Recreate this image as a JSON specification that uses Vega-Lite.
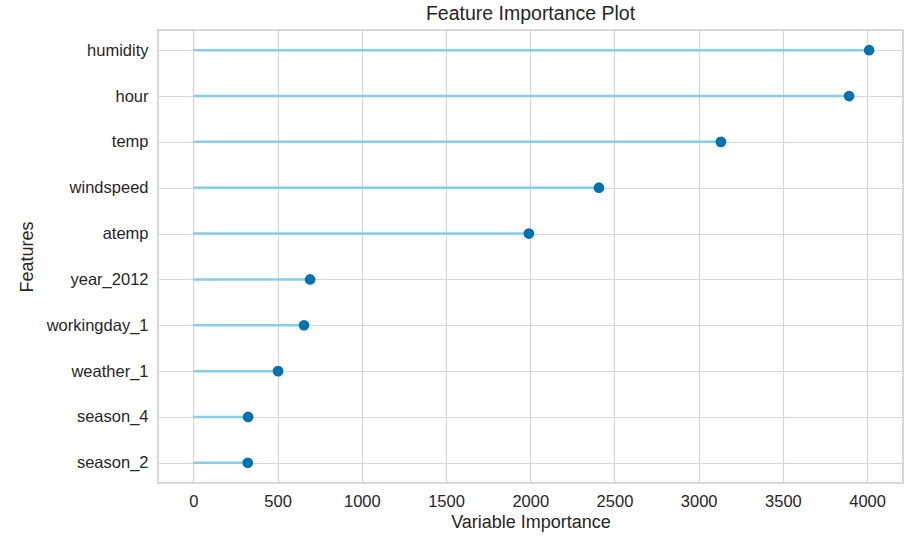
{
  "$schema": "https://vega.github.io/schema/vega-lite/v6.json",
  "width": 745,
  "height": 453,
  "autosize": {"type": "none"},
  "padding": {"left": 158, "top": 30, "right": 16, "bottom": 67},
  "background": "white",
  "title": {"text": "Feature Importance Plot", "fontSize": 19.5, "font": "Liberation Sans", "fontWeight": "normal", "color": "#262626", "offset": 6},
  "config": {
    "view": {"stroke": "#cccccc", "strokeWidth": 1.5},
    "axis": {"labelFont": "Liberation Sans", "titleFont": "Liberation Sans", "labelFontSize": 16.5, "titleFontSize": 18, "labelColor": "#262626", "titleColor": "#262626", "titleFontWeight": "normal", "gridColor": "#d6d6d6", "gridWidth": 1.2, "domain": false, "ticks": false}
  },
  "data": {"values": [
    {"feature": "humidity", "importance": 4012},
    {"feature": "hour", "importance": 3893},
    {"feature": "temp", "importance": 3132},
    {"feature": "windspeed", "importance": 2408},
    {"feature": "atemp", "importance": 1992},
    {"feature": "year_2012", "importance": 693},
    {"feature": "workingday_1", "importance": 657},
    {"feature": "weather_1", "importance": 503},
    {"feature": "season_4", "importance": 325},
    {"feature": "season_2", "importance": 323}
  ]},
  "encoding": {
    "y": {"field": "feature", "type": "nominal", "sort": ["humidity","hour","temp","windspeed","atemp","year_2012","workingday_1","weather_1","season_4","season_2"],
      "scale": {"type": "point", "padding": 0.44},
      "axis": {"title": "Features", "labelPadding": 10, "titlePadding": 10, "grid": true}},
    "x": {"field": "importance", "type": "quantitative", "scale": {"domain": [-210, 4213], "nice": false, "zero": false},
      "axis": {"title": "Variable Importance", "values": [0,500,1000,1500,2000,2500,3000,3500,4000], "format": "d", "labelPadding": 10, "titlePadding": 4, "grid": true}}
  },
  "layer": [
    {
      "mark": {"type": "rule", "color": "#87ceeb", "strokeWidth": 2.5},
      "encoding": {
        "x2": {"datum": 0}
      }
    },
    {
      "mark": {"type": "point", "filled": true, "color": "#0072b2", "size": 115, "opacity": 1},
      "encoding": {}
    }
  ]
}
